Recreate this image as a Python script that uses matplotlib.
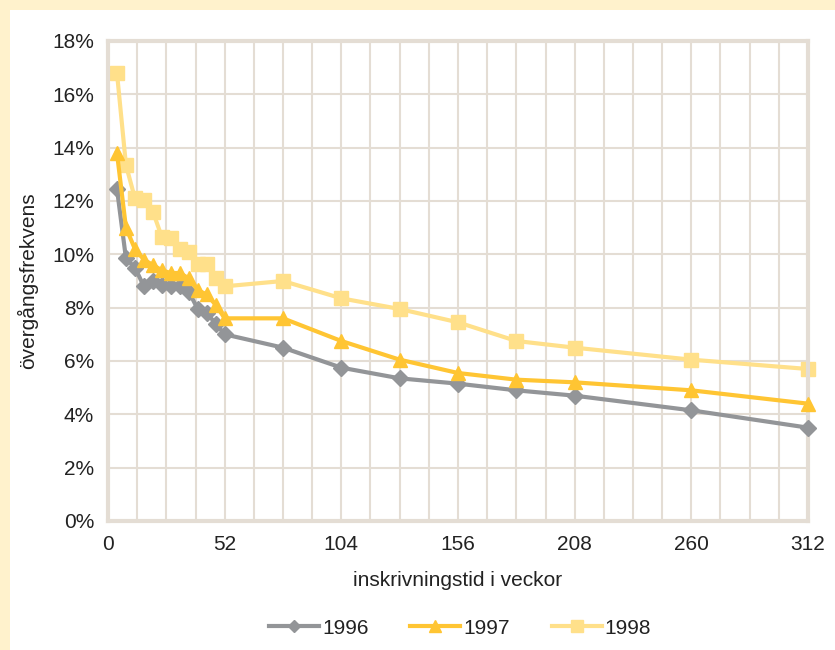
import matplotlib
matplotlib.use("Agg")
import matplotlib.pyplot as plt
from matplotlib.patches import Rectangle
from matplotlib.ticker import MultipleLocator, FuncFormatter

# veckor sedan inskrivning
weeks = [4, 8, 12, 16, 20, 24, 28, 32, 36, 40, 44, 48, 52,
         78, 104, 130, 156, 182, 208, 260, 312]

# övergångsfrekvens i procent
rate_1996 = [12.45, 9.85, 9.5, 8.8, 9.0, 8.85, 8.8, 8.8, 8.6, 7.95, 7.8, 7.4, 7.0,
             6.5, 5.75, 5.35, 5.15, 4.9, 4.7, 4.15, 3.5]
rate_1997 = [13.8, 11.0, 10.2, 9.8, 9.6, 9.4, 9.3, 9.3, 9.1, 8.65, 8.5, 8.1, 7.6,
             7.6, 6.75, 6.05, 5.55, 5.3, 5.2, 4.9, 4.4]
rate_1998 = [16.8, 13.35, 12.1, 12.05, 11.6, 10.65, 10.6, 10.2, 10.1, 9.65, 9.65, 9.1, 8.8,
             9.0, 8.35, 7.95, 7.45, 6.75, 6.5, 6.05, 5.7]

plt.rcParams["font.family"] = ["Liberation Sans", "DejaVu Sans"]

fig = plt.figure(figsize=(8.35, 6.5), dpi=100)
fig.patch.set_facecolor("#FFF2CC")
# vit panel bakom diagrammet
fig.patches.append(Rectangle((10 / 835, 0), 1, 1 - 10 / 650, transform=fig.transFigure,
                             facecolor="white", edgecolor="none", zorder=-5))

ax = fig.add_axes([108 / 835, 1 - 521 / 650, 700 / 835, 480 / 650])
grid_c = "#E4DDD4"

ax.plot(weeks, rate_1996, color="#939598", lw=3, marker="D", ms=8, label="1996",
        zorder=3, clip_on=False)
ax.plot(weeks, rate_1997, color="#FFC533", lw=3, marker="^", ms=10, label="1997",
        zorder=4, clip_on=False)
ax.plot(weeks, rate_1998, color="#FFE08A", lw=3, marker="s", ms=10, label="1998",
        zorder=2, clip_on=False)

ax.set_xlim(0, 312)
ax.set_ylim(0, 18)
ax.xaxis.set_major_locator(MultipleLocator(52))
ax.xaxis.set_minor_locator(MultipleLocator(13))
ax.yaxis.set_major_locator(MultipleLocator(2))
ax.yaxis.set_major_formatter(FuncFormatter(lambda v, p: f"{v:.0f}%"))
ax.grid(True, which="both", axis="x", color=grid_c, lw=1.5)
ax.grid(True, which="major", axis="y", color=grid_c, lw=1.5)
ax.set_axisbelow(True)
for s in ax.spines.values():
    s.set_color(grid_c)
    s.set_linewidth(3)
ax.tick_params(which="both", length=0, labelsize=15, colors="#222222", pad=10)

ax.set_xlabel("inskrivningstid i veckor", fontsize=15, color="#222222", labelpad=12)
ax.set_ylabel("övergångsfrekvens", fontsize=15, color="#222222", labelpad=10)

leg = fig.legend(loc="center", bbox_to_anchor=(0.551, 1 - 628 / 650), ncol=3,
                 frameon=False, fontsize=15, handlelength=2.4, columnspacing=2.0,
                 handletextpad=0.15, markerscale=0.8)
for t in leg.get_texts():
    t.set_color("#222222")

fig.savefig("out.png", dpi=100, facecolor=fig.get_facecolor())
plt.close(fig)
